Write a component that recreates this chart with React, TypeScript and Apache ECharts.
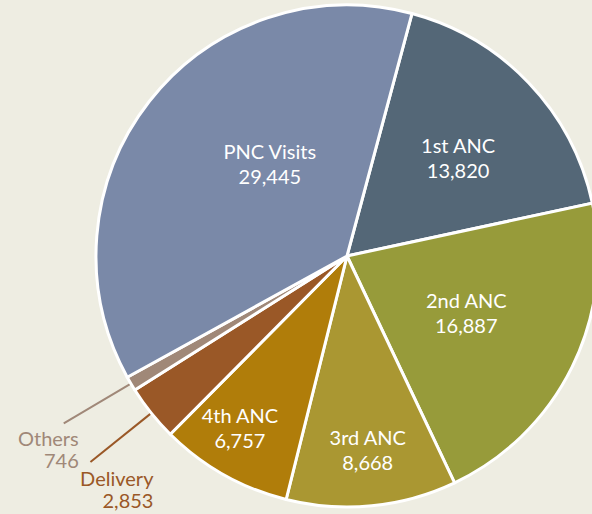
import React, { useEffect, useRef } from "react";
import * as echarts from "echarts";

const categories = ["1st ANC", "2nd ANC", "3rd ANC", "4th ANC", "Delivery", "Others", "PNC Visits"];
const values = [13820, 16887, 8668, 6757, 2853, 746, 29445];
const colors = ["#546777", "#979B3A", "#AA9732", "#B07D0A", "#9A5827", "#A08878", "#7A89A8"];
const outside = [false, false, false, false, true, true, false];

// label nudges (px) relative to the library's default placement
const labelShift: [number, number][] = [
  [18, -10],
  [4, 0],
  [8, 66],
  [-44, 60],
  [68, 27],
  [20, 26],
  [24, -13],
];

const fmt = (v: number) => v.toLocaleString("en-US");

export default function App() {
  const ref = useRef<HTMLDivElement>(null);
  useEffect(() => {
    document.body.style.margin = "0";
    const chart = echarts.init(ref.current!, undefined, { renderer: "svg" });
    const font = "Lato, 'Open Sans', sans-serif";
    chart.setOption({
      animation: false,
      backgroundColor: "#EEEDE2",
      series: [
        {
          type: "pie",
          center: [347, 256],
          radius: [0, 251],
          startAngle: 75,
          clockwise: true,
          avoidLabelOverlap: false,
          itemStyle: { borderColor: "#ffffff", borderWidth: 3 },
          labelLayout: (p: any) => {
            const s = labelShift[p.dataIndex];
            return { dx: s[0], dy: s[1] };
          },
          data: categories.map((c, i) => ({
            name: c,
            value: values[i],
            itemStyle: { color: colors[i] },
            label: outside[i]
              ? {
                  show: true,
                  position: "outside",
                  color: colors[i],
                  fontFamily: font,
                  fontSize: 20,
                  lineHeight: 22,
                  align: "center",
                }
              : {
                  show: true,
                  position: "inside",
                  color: "#ffffff",
                  fontFamily: font,
                  fontSize: 20,
                  lineHeight: 25,
                },
            labelLine: outside[i]
              ? { show: true, length: 78, length2: 0, lineStyle: { color: colors[i], width: 2 } }
              : { show: false },
          })),
          label: {
            formatter: (p: any) => `${p.name}\n${fmt(p.value)}`,
          },
        },
      ],
    });
    return () => chart.dispose();
  }, []);
  return <div ref={ref} style={{ width: 592, height: 514 }} />;
}
